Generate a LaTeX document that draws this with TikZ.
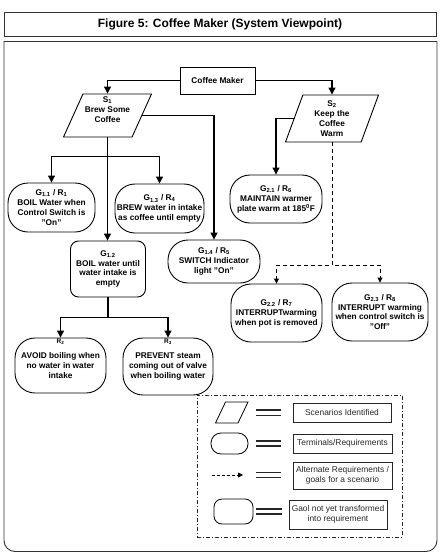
\documentclass[tikz,border=0pt]{standalone}
\usepackage{fontspec}
\setmainfont{Liberation Sans}
\usetikzlibrary{shapes.geometric,arrows.meta}
\begin{document}
\begin{tikzpicture}[x=1pt,y=-1pt,
  conn/.style={line width=1.1pt, -{Triangle[length=7pt,width=7pt]}},
  dconn/.style={line width=0.9pt, dash pattern=on 4pt off 3pt, -{Triangle[length=5pt,width=5pt]}},
  shp/.style={draw, line width=0.9pt},
  nt/.style={font=\fontsize{8.3}{9.9}\selectfont\bfseries, align=center, inner sep=0pt},
  lt/.style={font=\fontsize{8.4}{10}\selectfont, align=center, inner sep=0pt, text=black!85},
  stad/.style={shp, nt, rounded corners=20pt},
  rbox/.style={shp, nt, rounded corners=8pt},
  scen/.style={shp, nt, trapezium, trapezium left angle=64, trapezium right angle=116, trapezium stretches body},
  lbox/.style={draw=black!85, line width=0.8pt, lt},
  eq/.style={line width=1.2pt, black!85},
  rlab/.style={font=\fontsize{6.5}{7}\selectfont\bfseries, inner sep=0pt},
]
\useasboundingbox (0,0) rectangle (442,552);

% title and frame
\node[draw=black!80, line width=0.9pt, minimum width=432, minimum height=24, inner sep=0pt,
      font=\fontsize{12}{14}\selectfont\bfseries] (title) at (220,24) {Figure 5: Coffee Maker (System Viewpoint)};
\draw[black!80, line width=0.9pt] (4,41) -- (437,41);
\draw[black!80, line width=0.9pt, rounded corners=11pt] (437,41) -- (437,551.5) -- (4,551.5) -- (4,41);

% nodes
\node[shp, nt, minimum width=75, minimum height=27] (cm) at (217.5,80.5) {Coffee Maker};
\node[shp, font=\fontsize{8.3}{9.9}\selectfont\bfseries, inner sep=0pt, trapezium, trapezium left angle=64, trapezium right angle=116, trapezium stretches body, minimum width=88, minimum height=43] (s1) at (107.5,115.5)
  {\begin{tabular}{@{}c@{}}S\textsubscript{1}\\Brew Some\\Coffee\end{tabular}\rule[-23pt]{0pt}{0pt}};
\node[scen, minimum width=93, minimum height=47] (s2) at (332,118.5) {S\textsubscript{2}\\Keep the\\Coffee\\Warm};

\node[stad, minimum width=87, minimum height=49] (g11) at (51.5,207.5) {G\textsubscript{1.1} / R\textsubscript{1}\\BOIL Water when\\Control Switch is\\"On"};
\node[stad, minimum width=89, minimum height=49] (g13) at (159.5,208.5) {G\textsubscript{1.3} / R\textsubscript{4}\\BREW water in intake\\as coffee until empty};
\node[rbox, minimum width=75, minimum height=56] (g12) at (108,269) {G\textsubscript{1.2}\\BOIL water until\\water intake is\\empty};
\node[stad, minimum width=92, minimum height=43] (g14) at (214,261.5) {G\textsubscript{1.4} / R\textsubscript{5}\\SWITCH Indicator\\light "On"};
\node[stad, minimum width=92, minimum height=48] (g21) at (276,199) {G\textsubscript{2.1} / R\textsubscript{6}\\MAINTAIN warmer\\plate warm at 185\textsuperscript{0}F};
\node[stad, minimum width=91, minimum height=58] (g22) at (276.5,313) {G\textsubscript{2.2} / R\textsubscript{7}\\INTERRUPTwarming\\when pot is removed};
\node[stad, minimum width=96, minimum height=58] (g23) at (380,312) {G\textsubscript{2.3} / R\textsubscript{8}\\INTERRUPT warming\\when control switch is\\"Off"};
\node[stad, minimum width=91, minimum height=55] (r2) at (60.5,365.5) {AVOID boiling when\\no water in water\\intake};
\node[rlab] (r2l) at (60.5,342) {R\textsubscript{2}};
\node[stad, minimum width=90, minimum height=57] (r3) at (168,366.5) {PREVENT steam\\coming out of valve\\when boiling water};
\node[rlab] (r3l) at (168,342) {R\textsubscript{3}};

% connectors
\draw[conn] (cm.west) -| (s1.north);
\draw[conn] (cm.east) -| (s2.north);
\draw[conn] (s1.south) -- ++(0,19) -| (g11.north);
\draw[conn] (s1.south) -- ++(0,19) -| (g13.north);
\draw[conn] (s1.south) -- (s1.south |- g12.north);
\draw[conn] (s1.east) -| (g14.north);
\draw[conn] (s2.west) -| (g21.north);
\draw[dconn] (s2.south) -- ++(0,123) -| (g22.north);
\draw[dconn] (s2.south) -- ++(0,123) -| (g23.north);
\draw[conn] (g12.south) -- ++(0,20) -| (r2.north);
\draw[conn] (g12.south) -- ++(0,20) -| (r3.north);

% legend
\node[draw=black!85, line width=1pt, dash pattern=on 4pt off 2pt on 1pt off 2pt, minimum width=205, minimum height=142, inner sep=0pt] (legend) at (299.5,466) {};
\draw[black, line width=0.8pt] (225.5,402) -- (248,402) -- (238,423) -- (215.5,423) -- cycle;
\draw[eq] (256,410) -- (281,410) (256,415.5) -- (281,415.5);
\node[lbox, minimum width=98, minimum height=19] (l1) at (342,412.5) {Scenarios Identified};

\node[shp, line width=0.8pt, rounded corners=10pt, minimum width=37, minimum height=21, inner sep=0pt] (l2s) at (229.5,443.5) {};
\draw[eq] (256,441) -- (281,441) (256,446) -- (281,446);
\node[lbox, minimum width=99, minimum height=19] (l2) at (342.5,443.5) {Terminals/Requirements};

\coordinate (l3a) at (212,475);
\coordinate (l3b) at (243,475);
\draw[dconn, line width=0.8pt, dash pattern=on 3pt off 2pt] (l3a) -- (l3b);
\draw[eq] (256,472.5) -- (281,472.5) (256,477.5) -- (281,477.5);
\node[lbox, minimum width=99, minimum height=27] (l3) at (342.5,475.5) {Alternate Requirements /\\goals for a scenario};

\node[shp, line width=0.8pt, rounded corners=8pt, minimum width=39, minimum height=25, inner sep=0pt] (l4s) at (233.5,511.5) {};
\draw[eq] (256,509) -- (282,509) (256,514) -- (282,514);
\node[lbox, minimum width=98, minimum height=29] (l4) at (338,514.5) {Gaol not yet transformed\\into requirement};
\end{tikzpicture}
\end{document}
